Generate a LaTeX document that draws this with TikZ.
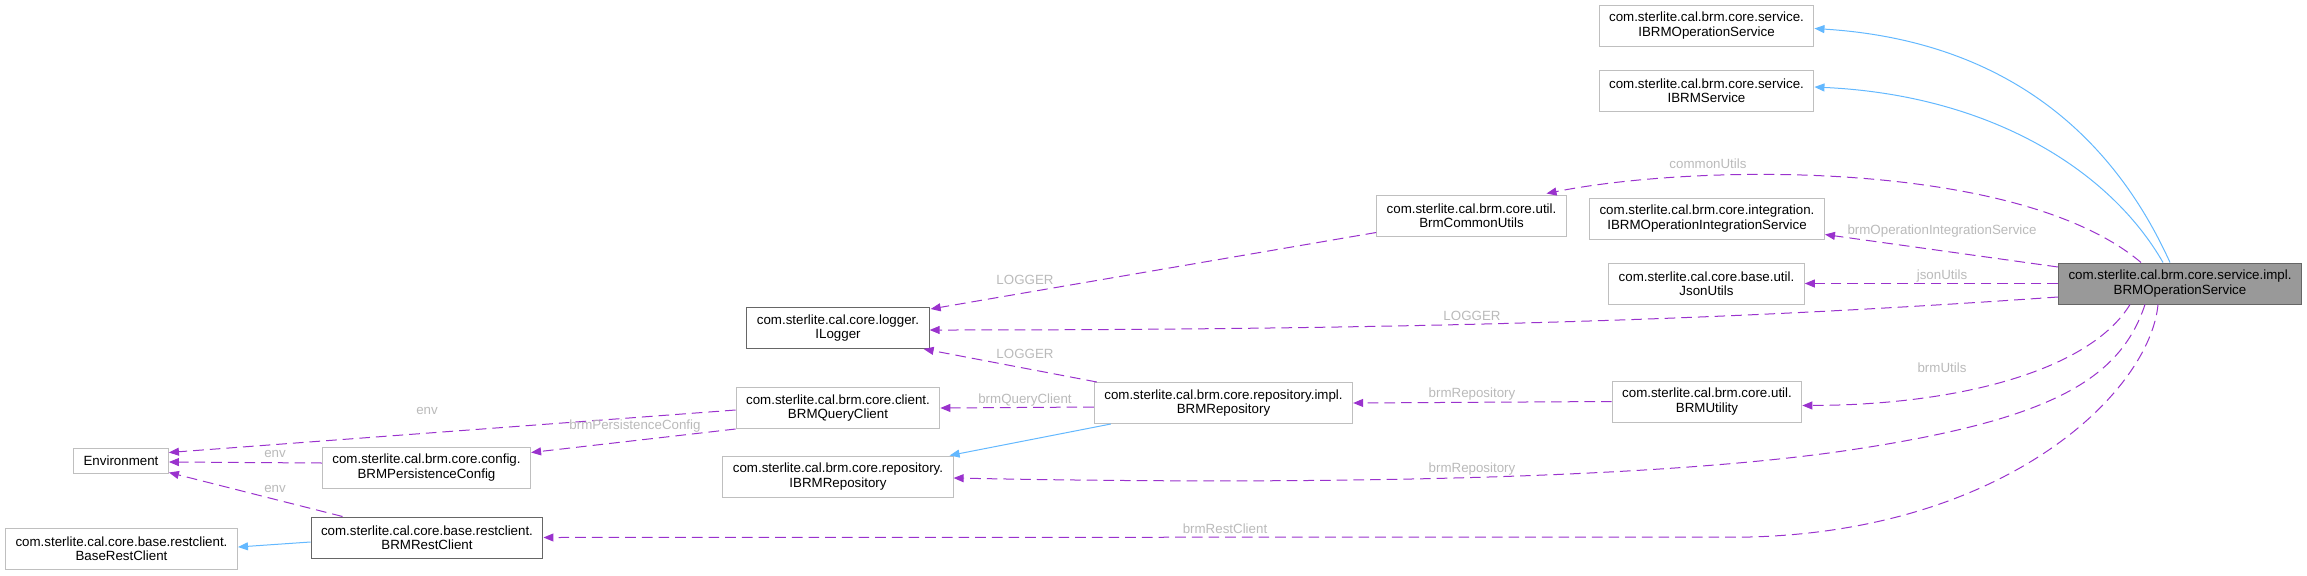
\documentclass[tikz,border=0pt]{standalone}
\usepackage{fontspec}
\setmainfont{Liberation Sans}
\usepackage{tikz}
\usetikzlibrary{arrows.meta,calc}
\definecolor{dxPurple}{HTML}{9A32CD}
\definecolor{dxBlue}{HTML}{63B8FF}
\definecolor{dxBorder}{HTML}{BFBFBF}
\definecolor{dxDark}{HTML}{666666}
\definecolor{dxFill}{HTML}{999999}
\definecolor{dxLabel}{HTML}{BABABA}

\begin{document}
\begin{tikzpicture}[x=0.75pt, y=-0.75pt,
  font=\fontsize{10pt}{10.7pt}\selectfont,
  cls/.style={draw=dxBorder, fill=white, line width=0.75pt, align=center, inner xsep=7.5pt, minimum height=30.75pt},
  clsdark/.style={cls, draw=dxDark},
  clsmain/.style={cls, draw=dxDark, fill=dxFill},
  dep/.style={draw=dxPurple, line width=0.75pt, dash pattern=on 8pt off 4.5pt, -{Triangle[length=7.5pt,width=6pt]}},
  inh/.style={draw=dxBlue, line width=0.75pt, -{Triangle[length=7.5pt,width=6pt]}},
  lbl/.style={text=dxLabel, inner sep=0pt}]
% picture is laid out in pixels of the 2307x575 graph, y downwards
\useasboundingbox (0,0) rectangle (2307,575);
% ---------- classes ----------
\node[clsmain] (main) at (2180,283.5) {com.sterlite.cal.brm.core.service.impl.\\BRMOperationService};
\node[cls] (opsvc) at (1706.5,25.5) {com.sterlite.cal.brm.core.service.\\IBRMOperationService};
\node[cls] (brmsvc) at (1706.5,91) {com.sterlite.cal.brm.core.service.\\IBRMService};
\node[cls] (common) at (1471.5,215.5) {com.sterlite.cal.brm.core.util.\\BrmCommonUtils};
\node[cls] (integ) at (1707,218.5) {com.sterlite.cal.brm.core.integration.\\IBRMOperationIntegrationService};
\node[cls] (json) at (1706.5,283.5) {com.sterlite.cal.core.base.util.\\JsonUtils};
\node[cls] (utility) at (1707,401.5) {com.sterlite.cal.brm.core.util.\\BRMUtility};
\node[cls] (repo) at (1223.5,403) {com.sterlite.cal.brm.core.repository.impl.\\BRMRepository};
\node[clsdark] (logger) at (838,328) {com.sterlite.cal.core.logger.\\ILogger};
\node[cls] (query) at (838,408) {com.sterlite.cal.brm.core.client.\\BRMQueryClient};
\node[cls] (irepo) at (838,476.5) {com.sterlite.cal.brm.core.repository.\\IBRMRepository};
\node[cls] (persist) at (426.5,467.5) {com.sterlite.cal.brm.core.config.\\BRMPersistenceConfig};
\node[clsdark] (rest) at (427,537.5) {com.sterlite.cal.core.base.restclient.\\BRMRestClient};
\node[cls, minimum height=18.75pt] (env) at (121,460.5) {Environment};
\node[cls] (baserest) at (121.5,549) {com.sterlite.cal.core.base.restclient.\\BaseRestClient};
% ---------- inheritance ----------
\draw[inh] ($(main.north)+(-10,0)$) .. controls (2110,130) and (2000,40) .. ($(opsvc.east)+(0,3)$);
\draw[inh] ($(main.north)+(-17,0)$) .. controls (2110,170) and (1990,95) .. ($(brmsvc.east)+(0,-4)$);
\draw[inh] ($(repo.south west)+(17,0)$) -- ($(irepo.north east)+(-4,0)$);
\draw[inh] ($(rest.west)+(0,4.5)$) -- ($(baserest.east)+(0,-2)$);
% ---------- usage from BRMOperationService ----------
\draw[dep] ($(main.north)+(-39,0)$) .. controls (2020,160) and (1700,163) .. ($(common.north)+(75,-1)$);
\draw[dep] ($(main.west)+(0,-16.5)$) -- ($(integ.east)+(0,16)$);
\draw[dep] (main.west) -- (json.east);
\draw[dep] ($(main.west)+(0,13.5)$) .. controls (1800,315) and (1500,330) .. ($(logger.east)+(0,2)$);
\draw[dep] ($(main.south)+(-50,0)$) .. controls (2090,370) and (1960,405) .. ($(utility.east)+(0,4)$);
\draw[dep] ($(main.south)+(-35,0)$) .. controls (2120,380) and (2050,420) .. (1850,450)
  .. controls (1650,480) and (1300,485) .. ($(irepo.east)+(0,1.5)$);
\draw[dep] ($(main.south)+(-22,0)$) .. controls (2150,390) and (2010,530) .. (1750,537) -- (rest.east);
% ---------- other usage ----------
\draw[dep] ($(common.south west)+(0,-4)$) -- ($(logger.north east)+(1,2)$);
\draw[dep] (utility.west) -- (repo.east);
\draw[dep] ($(repo.north west)+(3,0)$) -- ($(logger.south east)+(-6,0)$);
\draw[dep] ($(repo.west)+(0,4)$) -- (query.east);
\draw[dep] ($(query.west)+(0,2)$) -- ($(env.east)+(0,-8)$);
\draw[dep] (query.south west) -- ($(persist.north east)+(0,6)$);
\draw[dep] ($(persist.west)+(0,-4.5)$) -- ($(env.east)+(0,1.5)$);
\draw[dep] ($(rest.north west)+(32,0)$) -- ($(env.south east)+(0,-1)$);
% ---------- edge labels ----------
\node[lbl] (lcommon) at (1708,164) {commonUtils};
\node[lbl] (linteg) at (1942,231) {brmOperationIntegrationService};
\node[lbl] (ljson) at (1942,276) {jsonUtils};
\node[lbl] (llogmain) at (1472,316) {LOGGER};
\node[lbl] (llogcommon) at (1025,280) {LOGGER};
\node[lbl] (llogrepo) at (1025,354) {LOGGER};
\node[lbl] (lquery) at (1025,400) {brmQueryClient};
\node[lbl] (lrepoutil) at (1472,394) {brmRepository};
\node[lbl] (lutils) at (1942,368) {brmUtils};
\node[lbl] (lrepomain) at (1472,469) {brmRepository};
\node[lbl] (lrest) at (1225,529) {brmRestClient};
\node[lbl] (lenvquery) at (427,411) {env};
\node[lbl] (lpersist) at (635,426) {brmPersistenceConfig};
\node[lbl] (lenvpersist) at (275,454) {env};
\node[lbl] (lenvrest) at (275,489) {env};
\end{tikzpicture}
\end{document}
